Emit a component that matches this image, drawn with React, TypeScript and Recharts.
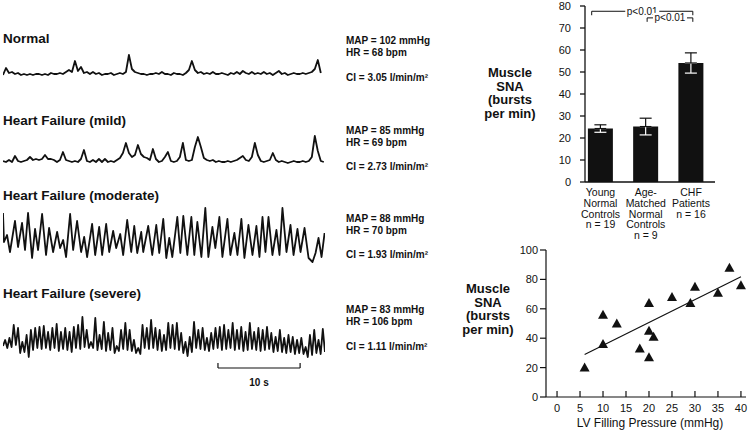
import React from 'react';
import {
  LineChart, Line, XAxis, YAxis, BarChart, Bar, ErrorBar,
  ComposedChart, Scatter, ReferenceLine,
} from 'recharts';

// ---------- Neurogram traces (time in seconds, amplitude in arbitrary units) ----------
const TRACE_SPAN = 39.2;
const normalDt = 0.365;
const normalValues = [
  2, 9, 4, 5, 3, 4, 2, 3, 2, 3, 2, 3, 3, 2, 3, 2, 4, 3, 3, 4,
  3, 5, 7, 5, 16, 6, 10, 4, 5, 3, 5, 3, 4, 2, 3, 3, 4, 2, 3, 4,
  3, 5, 22, 8, 5, 4, 3, 3, 2, 3, 3, 4, 3, 5, 3, 3, 2, 4, 3, 3,
  2, 4, 7, 16, 7, 4, 5, 3, 4, 3, 5, 3, 3, 4, 3, 2, 4, 3, 5, 3,
  6, 4, 3, 5, 3, 4, 3, 5, 3, 4, 2, 4, 6, 3, 4, 2, 3, 4, 3, 3,
  4, 3, 4, 5, 8, 17, 4,
];
const mildDt = 0.365;
const mildValues = [
  4, 3, 5, 3, 9, 4, 3, 4, 5, 8, 5, 6, 5, 6, 10, 6, 6, 5, 3, 5,
  13, 5, 4, 3, 4, 3, 6, 15, 4, 3, 5, 3, 6, 3, 6, 3, 4, 3, 5, 7,
  12, 22, 12, 8, 10, 20, 11, 8, 7, 5, 16, 6, 3, 4, 8, 13, 4, 3, 4, 8,
  22, 5, 4, 5, 18, 28, 18, 7, 5, 4, 5, 3, 4, 3, 3, 4, 3, 4, 5, 7,
  9, 5, 4, 8, 22, 10, 4, 3, 4, 5, 12, 5, 3, 4, 3, 2, 3, 4, 3, 3,
  4, 3, 4, 8, 29, 14, 4, 3,
];
const moderateTimes = [
  0, 0.12, 0.49, 0.85, 1.46, 1.83, 2.32, 2.68, 3.05, 3.54,
  3.9, 4.27, 4.76, 5.24, 5.61, 6.1, 6.59, 6.95, 7.32, 7.68,
  8.17, 8.54, 9.02, 9.51, 9.88, 10.24, 10.85, 11.22, 11.71, 12.07,
  12.56, 12.93, 13.41, 13.78, 14.27, 14.63, 15.12, 15.61, 15.98, 16.34,
  16.83, 17.07, 17.68, 18.17, 18.66, 19.02, 19.51, 19.88, 20.24, 20.61,
  21.22, 21.59, 21.95, 22.44, 22.93, 23.29, 23.66, 24.15, 24.63, 25.0,
  25.49, 25.85, 26.34, 26.71, 27.32, 27.68, 28.17, 28.54, 29.02, 29.39,
  29.88, 30.37, 30.85, 31.22, 31.59, 31.95, 32.32, 32.8, 33.29, 33.66,
  34.02, 34.51, 35.0, 35.37, 35.85, 36.22, 36.71, 37.2, 37.68, 38.05,
  38.41, 38.78, 39.15,
];
const moderateValues = [
  52, 23, 30, 13, 44, 18, 42, 15, 52, 7,
  36, 15, 51, 10, 37, 13, 33, 17, 25, 8,
  51, 15, 44, 13, 28, 8, 41, 10, 38, 10,
  41, 13, 34, 17, 31, 10, 45, 13, 39, 12,
  33, 13, 39, 10, 40, 12, 46, 7, 27, 8,
  48, 12, 49, 10, 48, 10, 43, 8, 57, 8,
  38, 17, 48, 8, 46, 10, 32, 10, 46, 7,
  40, 10, 39, 8, 48, 13, 48, 10, 35, 10,
  57, 13, 40, 10, 36, 13, 37, 7, 3, 12,
  27, 8, 32,
];
const severeDt = 0.2613;
const severeValues = [
  14, 20, 12, 22, 13, 35, 15, 32, 7, 18, 8, 25, 3, 30, 10, 32, 12, 33, 11, 34,
  12, 28, 10, 32, 12, 36, 9, 28, 11, 32, 10, 28, 8, 33, 12, 35, 11, 43, 13, 30,
  12, 18, 12, 42, 10, 25, 11, 38, 9, 27, 10, 32, 7, 14, 9, 30, 11, 37, 10, 30,
  9, 20, 7, 12, 6, 35, 12, 32, 11, 40, 12, 32, 10, 30, 9, 25, 10, 37, 12, 35,
  11, 37, 10, 27, 7, 18, 4, 23, 8, 38, 12, 30, 11, 32, 10, 22, 9, 27, 11, 32,
  12, 33, 10, 35, 11, 30, 12, 37, 10, 30, 11, 33, 9, 28, 10, 37, 11, 28, 10, 32,
  9, 30, 10, 33, 11, 27, 8, 23, 9, 30, 8, 22, 7, 25, 8, 23, 6, 20, 7, 22,
  6, 13, 3, 25, 5, 30, 7, 20, 6, 31, 8,
];
const scaleBarStart = 26.17;
const scaleBarLength = 10;
const scaleBarText = '10 s';

const traceTitles = ['Normal', 'Heart Failure (mild)', 'Heart Failure (moderate)', 'Heart Failure (severe)'];
const mapValues = [102, 85, 88, 83];
const hrValues = [68, 69, 70, 106];
const ciValues = ['3.05', '2.73', '1.93', '1.11'];

// ---------- Bar chart ----------
const barCategories = [
  ['Young', 'Normal', 'Controls', 'n = 19'],
  ['Age-', 'Matched', 'Normal', 'Controls', 'n = 9'],
  ['CHF', 'Patients', 'n = 16'],
];
const barValues = [24.3, 25.2, 54.1];
const barErrors = [1.7, 3.8, 4.6];
const barTicks = [0, 10, 20, 30, 40, 50, 60, 70, 80];
const sigBrackets = [
  { from: 0.805, to: 3.04, level: 77.6, drop: 1.8, text: 'p<0.01' },
  { from: 2.03, to: 3.04, level: 74.6, drop: 1.8, text: 'p<0.01' },
];
const yLabelLines = ['Muscle', 'SNA', '(bursts', 'per min)'];

// ---------- Scatter ----------
const lvPressure = [6, 10, 10, 13, 18, 20, 20, 20, 21, 25, 29, 30, 35, 37.5, 40];
const muscleSna = [20, 56, 36, 50, 33, 64, 45, 27, 41, 68, 64, 75, 71, 88, 76];
const scatterXTicks = [0, 5, 10, 15, 20, 25, 30, 35, 40];
const scatterYTicks = [0, 20, 40, 60, 80, 100];
const scatterXLabel = 'LV Filling Pressure (mmHg)';

const INK = '#111';
const FONT = '"Liberation Sans", Arial, Helvetica, sans-serif';

const toRows = (values: number[], dt: number) => values.map((v, i) => ({ t: i * dt, v }));
const normalRows = toRows(normalValues, normalDt);
const mildRows = toRows(mildValues, mildDt);
const moderateRows = moderateTimes.map((t, i) => ({ t, v: moderateValues[i] }));
const severeRows = toRows(severeValues, severeDt);

const barRows = barValues.map((v, i) => ({
  pos: i + 1,
  value: v,
  errUp: [0, barErrors[i]],
  errDown: [barErrors[i], 0],
}));

const scatterRows = lvPressure.map((x, i) => ({ x, y: muscleSna[i] }));
// least-squares regression line from the data
const n = lvPressure.length;
const mx = lvPressure.reduce((a, b) => a + b, 0) / n;
const my = muscleSna.reduce((a, b) => a + b, 0) / n;
let sxy = 0;
let sxx = 0;
for (let i = 0; i < n; i++) {
  sxy += (lvPressure[i] - mx) * (muscleSna[i] - my);
  sxx += (lvPressure[i] - mx) * (lvPressure[i] - mx);
}
const slope = sxy / sxx;
const intercept = my - slope * mx;
const xMin = Math.min(...lvPressure);
const xMax = Math.max(...lvPressure);

const TRACE_LEFT = 3;
const TRACE_W = 322;

function Trace({ rows, top, height, domain, children }: any) {
  return (
    <div style={{ position: 'absolute', left: TRACE_LEFT, top, width: TRACE_W, height }}>
      <LineChart width={TRACE_W} height={height} data={rows} margin={{ top: 0, right: 0, bottom: 0, left: 0 }}>
        <XAxis type="number" dataKey="t" domain={[0, TRACE_SPAN]} hide allowDataOverflow />
        <YAxis type="number" domain={domain} hide allowDataOverflow />
        <Line
          type="linear"
          dataKey="v"
          stroke={INK}
          strokeWidth={1.8}
          strokeLinejoin="round"
          dot={false}
          isAnimationActive={false}
        />
        {children}
      </LineChart>
    </div>
  );
}

function ScaleLabel(props: any) {
  const vb = props.viewBox || {};
  return (
    <text x={vb.x + vb.width / 2} y={vb.y + 18} textAnchor="middle" fontSize={10} fontWeight="bold" fill={INK} fontFamily={FONT}>
      {scaleBarText}
    </text>
  );
}

function BracketLabel(props: any) {
  const vb = props.viewBox || {};
  const cx = vb.x + vb.width / 2;
  return (
    <g>
      <rect x={cx - 17} y={vb.y - 5} width={34} height={10} fill="#fff" />
      <text x={cx} y={vb.y + 3.5} textAnchor="middle" fontSize={10} fill={INK} fontFamily={FONT}>
        {props.text}
      </text>
    </g>
  );
}

function CategoryTick(props: any) {
  const { x, y, payload } = props;
  const lines = barCategories[Math.round(payload.value) - 1] || [];
  return (
    <text x={x} y={y} textAnchor="middle" fontSize={10.5} fill={INK} fontFamily={FONT}>
      {lines.map((l, i) => (
        <tspan key={i} x={x} dy={i === 0 ? 14 : 10.8}>
          {l}
        </tspan>
      ))}
    </text>
  );
}

function Triangle(props: any) {
  const { cx, cy } = props;
  if (cx == null || cy == null) return null;
  return <polygon points={`${cx},${cy - 5} ${cx - 5},${cy + 4} ${cx + 5},${cy + 4}`} fill={INK} />;
}

const axisTick = { fontSize: 11, fill: INK, fontFamily: FONT };

export default function App() {
  const paramsBaselines = [
    [44, 56, 81],
    [134, 145.5, 169.5],
    [222, 234, 258],
    [313, 325, 350],
  ];
  const titleBaselines = [43, 125, 200, 298];
  return (
    <div style={{ position: 'absolute', left: 0, top: 0, width: 753, height: 430, background: '#fff', fontFamily: FONT, overflow: 'hidden' }}>
      <svg width={753} height={430} style={{ position: 'absolute', left: 0, top: 0 }}>
        {traceTitles.map((t, i) => (
          <text key={t} x={3} y={titleBaselines[i]} fontSize={13.5} fontWeight="bold" fill={INK} fontFamily={FONT}>
            {t}
          </text>
        ))}
        {mapValues.map((m, i) => (
          <g key={i} fontSize={10} fontWeight="bold" fill={INK} fontFamily={FONT}>
            <text x={346} y={paramsBaselines[i][0]}>{`MAP = ${m} mmHg`}</text>
            <text x={346} y={paramsBaselines[i][1]}>{`HR = ${hrValues[i]} bpm`}</text>
            <text x={346} y={paramsBaselines[i][2]}>{`CI = ${ciValues[i]} l/min/m²`}</text>
          </g>
        ))}
        <text x={510} y={77} textAnchor="middle" fontSize={13} fontWeight="bold" fill={INK} fontFamily={FONT}>
          {yLabelLines.map((l, i) => (
            <tspan key={i} x={510} dy={i === 0 ? 0 : 13.7}>{l}</tspan>
          ))}
        </text>
        <text x={488} y={293} textAnchor="middle" fontSize={13} fontWeight="bold" fill={INK} fontFamily={FONT}>
          {yLabelLines.map((l, i) => (
            <tspan key={i} x={488} dy={i === 0 ? 0 : 13.6}>{l}</tspan>
          ))}
        </text>
        <text x={650} y={427} textAnchor="middle" fontSize={12} fill={INK} fontFamily={FONT}>
          {scatterXLabel}
        </text>
      </svg>

      <Trace rows={normalRows} top={47} height={30} domain={[0, 30]} />
      <Trace rows={mildRows} top={131} height={34} domain={[0, 34]} />
      <Trace rows={moderateRows} top={203} height={62} domain={[0, 62]} />
      <Trace rows={severeRows} top={310} height={80} domain={[-30, 50]}>
        <ReferenceLine
          segment={[{ x: scaleBarStart, y: -8 }, { x: scaleBarStart + scaleBarLength, y: -8 }]}
          stroke={INK}
          strokeWidth={1.2}
          ifOverflow="visible"
          label={<ScaleLabel />}
        />
        <ReferenceLine segment={[{ x: scaleBarStart, y: -8 }, { x: scaleBarStart, y: -3 }]} stroke={INK} strokeWidth={1.2} ifOverflow="visible" />
        <ReferenceLine
          segment={[{ x: scaleBarStart + scaleBarLength, y: -8 }, { x: scaleBarStart + scaleBarLength, y: -3 }]}
          stroke={INK}
          strokeWidth={1.2}
          ifOverflow="visible"
        />
      </Trace>

      <div style={{ position: 'absolute', left: 460, top: 0, width: 293, height: 245 }}>
        <BarChart width={293} height={245} data={barRows} margin={{ top: 6, right: 38, bottom: 0, left: 80 }}>
          <XAxis
            type="number"
            dataKey="pos"
            domain={[0.657, 3.53]}
            ticks={[1, 2, 3]}
            interval={0}
            allowDataOverflow
            tickLine={false}
            tickSize={0}
            tickMargin={0}
            height={63}
            axisLine={{ stroke: INK, strokeWidth: 1.3 }}
            tick={<CategoryTick />}
          />
          <YAxis
            type="number"
            domain={[0, 80]}
            ticks={barTicks}
            interval={0}
            width={45}
            tickSize={5}
            tickMargin={9}
            axisLine={{ stroke: INK, strokeWidth: 1.3 }}
            tickLine={{ stroke: INK, strokeWidth: 1.3 }}
            tick={axisTick}
          />
          <Bar dataKey="value" fill={INK} barSize={25} isAnimationActive={false}>
            <ErrorBar dataKey="errDown" stroke="#fff" width={6} strokeWidth={1.2} />
            <ErrorBar dataKey="errUp" stroke={INK} width={6} strokeWidth={1.2} />
          </Bar>
          {sigBrackets.map((b, i) => (
            <ReferenceLine
              key={`h${i}`}
              segment={[{ x: b.from, y: b.level }, { x: b.to, y: b.level }]}
              stroke={INK}
              strokeWidth={1}
              ifOverflow="visible"
              label={<BracketLabel text={b.text} />}
            />
          ))}
          {sigBrackets.map((b, i) => (
            <ReferenceLine
              key={`l${i}`}
              segment={[{ x: b.from, y: b.level }, { x: b.from, y: b.level - b.drop }]}
              stroke={INK}
              strokeWidth={1}
              ifOverflow="visible"
            />
          ))}
          {sigBrackets.map((b, i) => (
            <ReferenceLine
              key={`r${i}`}
              segment={[{ x: b.to, y: b.level }, { x: b.to, y: b.level - b.drop }]}
              stroke={INK}
              strokeWidth={1}
              ifOverflow="visible"
            />
          ))}
        </BarChart>
      </div>

      <div style={{ position: 'absolute', left: 460, top: 240, width: 293, height: 190 }}>
        <ComposedChart width={293} height={190} margin={{ top: 10, right: 7, bottom: 0, left: 46 }}>
          <XAxis
            type="number"
            dataKey="x"
            domain={[-2.4, 41.1]}
            ticks={scatterXTicks}
            interval={0}
            allowDataOverflow
            height={33}
            tickSize={-6}
            tickMargin={13}
            axisLine={{ stroke: INK, strokeWidth: 1.2 }}
            tickLine={{ stroke: INK, strokeWidth: 1.2 }}
            tick={axisTick}
          />
          <YAxis
            type="number"
            dataKey="y"
            domain={[0, 100]}
            ticks={scatterYTicks}
            interval={0}
            width={40}
            tickSize={6}
            tickMargin={2}
            axisLine={{ stroke: INK, strokeWidth: 1.2 }}
            tickLine={{ stroke: INK, strokeWidth: 1.2 }}
            tick={axisTick}
          />
          <ReferenceLine
            segment={[{ x: xMin, y: intercept + slope * xMin }, { x: xMax, y: intercept + slope * xMax }]}
            stroke={INK}
            strokeWidth={1.2}
          />
          <Scatter data={scatterRows} fill={INK} shape={<Triangle />} isAnimationActive={false} />
        </ComposedChart>
      </div>
    </div>
  );
}
